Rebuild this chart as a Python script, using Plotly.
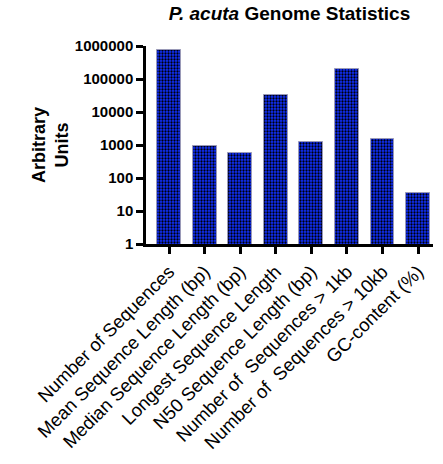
import plotly.graph_objects as go

categories = [
    "Number of Sequences",
    "Mean Sequence Length (bp)",
    "Median Sequence Length (bp)",
    "Longest Sequence Length",
    "N50 Sequence Length (bp)",
    "Number of  Sequences > 1kb",
    "Number of  Sequences > 10kb",
    "GC-content (%)",
]
values = [760000, 930, 560, 33000, 1260, 205000, 1480, 34.6]
ytick_vals = [1, 10, 100, 1000, 10000, 100000, 1000000]
ytick_text = ["1", "10", "100", "1000", "10000", "100000", "1000000"]

xpos = list(range(len(categories)))

fig = go.Figure(
    go.Bar(
        x=xpos,
        y=values,
        width=0.67,
        marker=dict(
            color="#1030ff",
            line=dict(color="#9a9ab8", width=1),
            pattern=dict(shape=".", size=3, solidity=0.45,
                         fgcolor="#000008", bgcolor="#1030ff",
                         fillmode="replace"),
        ),
    )
)

fig.update_layout(
    width=443,
    height=464,
    margin=dict(l=146, r=10, t=46, b=220, autoexpand=False),
    paper_bgcolor="white",
    plot_bgcolor="white",
    showlegend=False,
    font=dict(family="Liberation Sans, Arial, sans-serif", color="black"),
    title=dict(
        text="<b><i>P. acuta</i> Genome Statistics</b>",
        x=(146 + 433) / 2 / 443,
        xanchor="center",
        y=1 - 13 / 464,
        yanchor="middle",
        font=dict(size=19),
    ),
    bargap=0,
)

fig.update_xaxes(
    range=[-0.647, 7.42],
    tickvals=xpos,
    ticktext=categories,
    tickangle=-45,
    tickfont=dict(size=18.5),
    automargin=False,
    showline=True,
    linecolor="black",
    linewidth=2.5,
    ticks="outside",
    ticklen=7,
    tickwidth=2.5,
    tickcolor="black",
    showgrid=False,
    zeroline=False,
    fixedrange=True,
)

fig.update_yaxes(
    type="log",
    range=[0, 6],
    tickvals=ytick_vals,
    ticktext=ytick_text,
    tickfont=dict(size=15, weight="bold"),
    automargin=False,
    showline=True,
    linecolor="black",
    linewidth=2.5,
    ticks="outside",
    ticklen=7,
    tickwidth=2.5,
    tickcolor="black",
    showgrid=False,
    zeroline=False,
    title=dict(text="<b>Arbitrary<br>Units</b>", font=dict(size=18), standoff=2),
)

fig.write_html("out.html")
